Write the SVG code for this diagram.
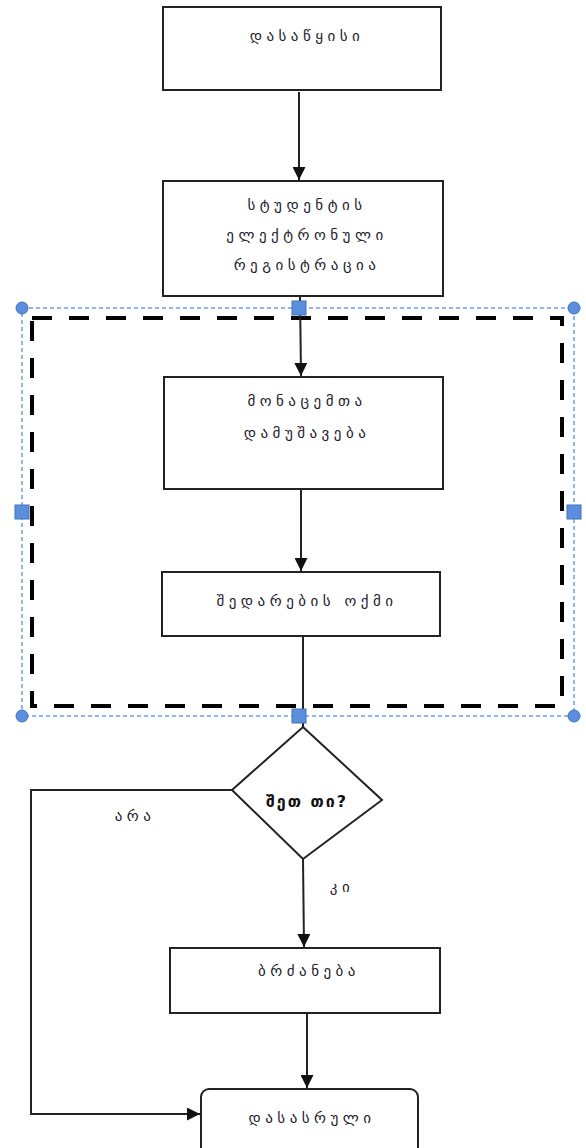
<svg xmlns="http://www.w3.org/2000/svg" width="586" height="1148" viewBox="0 0 586 1148">
<style>
.box{fill:#fff;stroke:#222;stroke-width:2}
.t{font-family:"DejaVu Sans","Noto Sans",sans-serif;font-size:15px;fill:#1a1a2a;text-anchor:middle;letter-spacing:4.5px}
.tb{font-family:"DejaVu Sans","Noto Sans",sans-serif;font-size:16px;font-weight:bold;fill:#111;text-anchor:middle;letter-spacing:2px}
.ln{fill:none;stroke:#222;stroke-width:2}
.sel{fill:none;stroke:#6a9ee8;stroke-width:1.5;stroke-dasharray:4 3}
.dash{fill:none;stroke:#000;stroke-width:4;stroke-dasharray:20 17}
.h{fill:#5b8fde;stroke:#3f73c2;stroke-width:1}
</style>
<defs>
<marker id="ah" viewBox="0 0 10 10" refX="10" refY="5" markerWidth="6.5" markerHeight="6.5" orient="auto" markerUnits="strokeWidth">
<path d="M0,0 L10,5 L0,10 z" fill="#111"/>
</marker>
</defs>
<rect width="586" height="1148" fill="#fff"/>
<g id="group-dashed">
<rect class="dash" x="32" y="318" width="530" height="388"/>
</g>
<g id="connectors">
<path class="ln" d="M299,92 L299,180" marker-end="url(#ah)"/>
<path class="ln" d="M300,296 L301,376" marker-end="url(#ah)"/>
<path class="ln" d="M301,489 L301,571" marker-end="url(#ah)"/>
<path class="ln" d="M303,636 L303,727"/>
<path class="ln" d="M303,859 L304,947" marker-end="url(#ah)"/>
<path class="ln" d="M307,1013 L307,1088" marker-end="url(#ah)"/>
<path class="ln" d="M232,790 L31,790 L31,1114 L200,1114" marker-end="url(#ah)"/>
<text class="t" x="135" y="821">არა</text>
<text class="t" x="342" y="892">კი</text>
</g>
<g id="start">
<rect class="box" x="163" y="7" width="278" height="83"/>
<text class="t" x="307" y="41">დასაწყისი</text>
</g>
<g id="registration">
<rect class="box" x="163" y="181" width="280" height="115"/>
<text class="t" x="307" y="210">სტუდენტის</text>
<text class="t" x="307" y="240">ელექტრონული</text>
<text class="t" x="307" y="270">რეგისტრაცია</text>
</g>
<g id="processing">
<rect class="box" x="164" y="377" width="279" height="112"/>
<text class="t" x="307" y="406">მონაცემთა</text>
<text class="t" x="307" y="438">დამუშავება</text>
</g>
<g id="comparison">
<rect class="box" x="162" y="572" width="278" height="64"/>
<text class="t" x="307" y="606">შედარების ოქმი</text>
</g>
<g id="decision">
<polygon class="box" points="303,727 382,800 303,859 232,790"/>
<text class="tb" x="307" y="807">შეთ თი?</text>
</g>
<g id="command">
<rect class="box" x="170" y="948" width="270" height="65"/>
<text class="t" x="309" y="976">ბრძანება</text>
</g>
<g id="end">
<rect class="box" x="201" y="1089" width="217" height="70" rx="8"/>
<text class="t" x="312" y="1123">დასასრული</text>
</g>
<g id="selection">
<rect class="sel" x="22" y="308" width="552" height="408"/>
<circle class="h" cx="22" cy="308" r="6"/>
<circle class="h" cx="574" cy="308" r="6"/>
<circle class="h" cx="22" cy="716" r="6"/>
<circle class="h" cx="574" cy="716" r="6"/>
<rect class="h" x="292" y="301" width="14" height="14"/>
<rect class="h" x="292" y="709" width="14" height="14"/>
<rect class="h" x="15" y="505" width="14" height="14"/>
<rect class="h" x="567" y="505" width="14" height="14"/>
</g>
</svg>
